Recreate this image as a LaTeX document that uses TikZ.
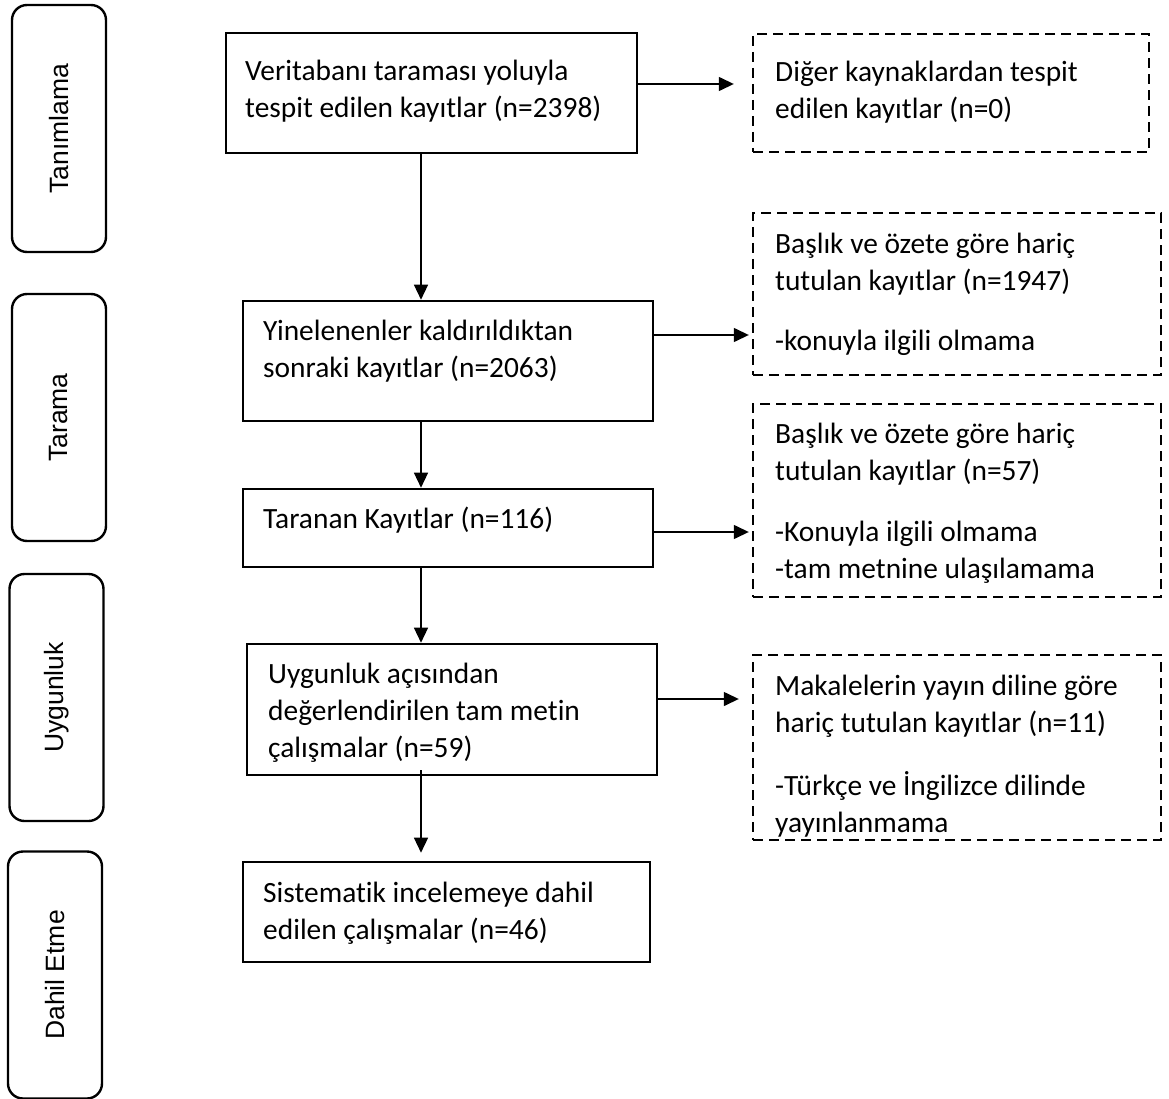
\documentclass[tikz,border=0pt]{standalone}
\usepackage{fontspec}
\setmainfont{Carlito}[Ligatures=NoCommon]
\newfontfamily\sidefont{Liberation Sans}
\usepackage{tikz}
\usetikzlibrary{arrows.meta}

\begin{document}
\begin{tikzpicture}[x=1pt,y=-1pt,
  mainbox/.style n args={2}{draw,line width=2.6pt,rectangle,minimum width=#1pt,minimum height=#2pt,inner sep=0pt},
  dashbox/.style n args={2}{draw,line width=2.4pt,rectangle,dash pattern=on 10pt off 6pt,minimum width=#1pt,minimum height=#2pt,inner sep=0pt},
  sidebox/.style={draw,line width=2.4pt,rectangle,rounded corners=15pt,rotate=90,minimum width=247pt,minimum height=94pt,font=\sidefont\fontsize{26.5}{30}\selectfont},
  txt/.style={anchor=north west,align=left,inner sep=0pt,font=\fontsize{29.4}{37}\selectfont},
  arr/.style={line width=1.4pt,-{Triangle[length=15pt,width=14pt]}}]
\useasboundingbox (0,0) rectangle (1169,1099);
% stages on the left
\foreach \n/\x/\y/\t in %
{1/59/128.5/Tanımlama,2/59/417.5/Tarama,3/56.5/697.5/Uygunluk,4/55/975/Dahil Etme} {
   \node[sidebox] (s\n) at (\x,\y) {\t};
}
% main column
\node[mainbox={411}{120}] (A) at (431.5,93) {};
\node[mainbox={410}{120}] (C) at (448,361) {};
\node[mainbox={410}{78}] (E) at (448,528) {};
\node[mainbox={410}{131}] (G) at (452,709.5) {};
\node[mainbox={407}{100}] (I) at (446.5,912) {};
\node[txt] (A-txt) at (245,54) {\strut Veritabanı taraması yoluyla\\tespit edilen kayıtlar (n=2398)};
\node[txt] (C-txt) at (263,314) {\strut Yinelenenler kaldırıldıktan\\sonraki kayıtlar (n=2063)};
\node[txt] (E-txt) at (263,502) {\strut Taranan Kayıtlar (n=116)};
\node[txt] (G-txt) at (268,657) {\strut Uygunluk açısından\\değerlendirilen tam metin\\çalışmalar (n=59)};
\node[txt] (I-txt) at (263,876) {\strut Sistematik incelemeye dahil\\edilen çalışmalar (n=46)};
% excluded records
\node[dashbox={396}{118}] (B) at (951,93) {};
\node[dashbox={408}{162}] (D) at (957,294) {};
\node[dashbox={408}{193}] (F) at (957,500.5) {};
\node[dashbox={408}{185}] (H) at (957,747.5) {};
\node[txt] (B-txt) at (775,55) {\strut Diğer kaynaklardan tespit\\edilen kayıtlar (n=0)};
\node[txt] (D-txt) at (775,227) {\strut Başlık ve özete göre hariç\\tutulan kayıtlar (n=1947)\\[23pt]-konuyla ilgili olmama};
\node[txt] (F-txt) at (775,417) {\strut Başlık ve özete göre hariç\\tutulan kayıtlar (n=57)\\[24pt]-Konuyla ilgili olmama\\-tam metnine ulaşılamama};
\node[txt] (H-txt) at (775,669) {\strut Makalelerin yayın diline göre\\hariç tutulan kayıtlar (n=11)\\[26pt]-Türkçe ve İngilizce dilinde\\yayınlanmama};
% connectors
\draw[arr] ([xshift=-10.5pt]A.south) -- ([xshift=-10.5pt]A.south |- C.north);
\draw[arr] ([xshift=-27pt]C.south) -- ([xshift=-27pt]C.south |- E.north);
\draw[arr] ([xshift=-27pt]E.south) -- ([xshift=-27pt]E.south |- G.north);
\draw[arr,shorten >=8pt] ([xshift=-31pt,yshift=6pt]G.south) -- ([xshift=-31pt]G.south |- I.north);
\draw[arr,shorten >=18pt] ([yshift=9pt]A.east) -- ([yshift=9pt]A.east -| B.west);
\draw[arr,shorten >=3pt] ([yshift=26pt]C.east) -- ([yshift=26pt]C.east -| D.west);
\draw[arr,shorten >=3pt] ([yshift=-4pt]E.east) -- ([yshift=-4pt]E.east -| F.west);
\draw[arr,shorten >=13pt] ([yshift=10.5pt]G.east) -- ([yshift=10.5pt]G.east -| H.west);
\end{tikzpicture}
\end{document}
